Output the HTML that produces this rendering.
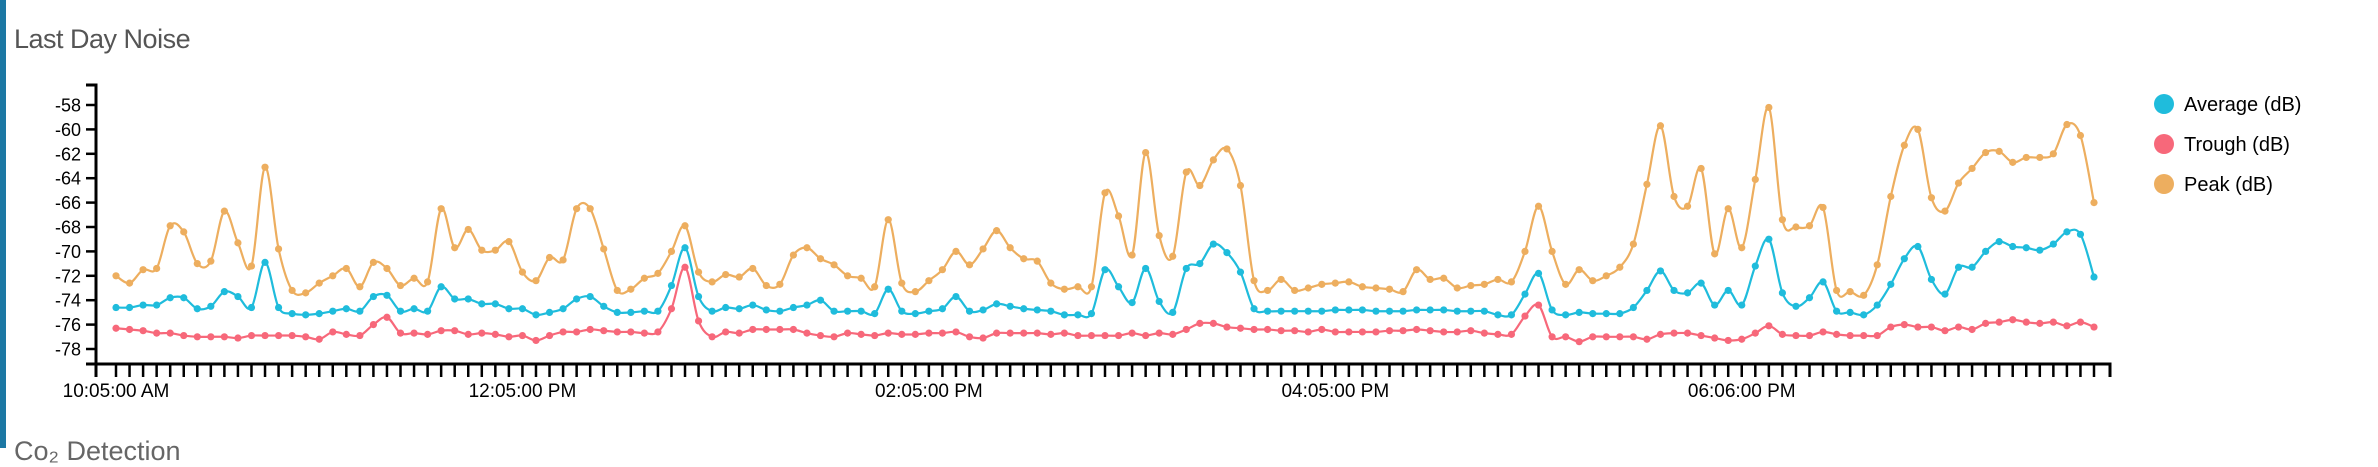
<!DOCTYPE html>
<html><head><meta charset="utf-8">
<style>
html,body{margin:0;padding:0;background:#fff;}
body{width:2378px;height:448px;overflow:hidden;position:relative;font-family:"Liberation Sans",sans-serif;}
#bar{position:absolute;left:0;top:0;width:6px;height:448px;background:#1c78a4;}
#title{position:absolute;left:14px;top:24px;font-size:27px;color:#555;font-weight:normal;letter-spacing:-0.5px;}
#foot{position:absolute;left:14px;top:436px;font-size:27px;color:#666;}
svg{position:absolute;left:0;top:0;}
</style></head>
<body>
<div id="bar"></div>
<div id="title">Last Day Noise</div>
<div id="foot">Co₂ Detection</div>
<svg id="chart" width="2378" height="448"></svg>
<script>
const xLabels = ["10:05:00 AM","12:05:00 PM","02:05:00 PM","04:05:00 PM","06:06:00 PM"];
const xLabelIdx = [0,30,60,90,120];
const yTicks = [-58,-60,-62,-64,-66,-68,-70,-72,-74,-76,-78];
const peak = [-72.0,-72.6,-71.5,-71.4,-67.9,-68.4,-71.0,-70.8,-66.7,-69.3,-71.2,-63.1,-69.8,-73.2,-73.4,-72.6,-72.0,-71.4,-72.9,-70.9,
-71.4,-72.8,-72.2,-72.5,-66.5,-69.7,-68.2,-69.9,-69.9,-69.2,-71.7,-72.4,-70.5,-70.7,-66.5,-66.5,-69.8,-73.2,-73.1,-72.2,
-71.8,-70.0,-67.9,-71.7,-72.5,-71.9,-72.1,-71.4,-72.8,-72.7,-70.3,-69.7,-70.6,-71.1,-72.0,-72.2,-72.9,-67.4,-72.6,-73.3,
-72.4,-71.5,-70.0,-71.1,-69.8,-68.3,-69.7,-70.6,-70.8,-72.6,-73.1,-72.9,-72.9,-65.2,-67.1,-70.3,-61.9,-68.7,-70.4,-63.5,
-64.6,-62.5,-61.6,-64.6,-72.4,-73.2,-72.3,-73.2,-73.0,-72.7,-72.6,-72.5,-72.9,-73.0,-73.1,-73.3,-71.5,-72.3,-72.2,-73.0,
-72.8,-72.7,-72.3,-72.5,-70.0,-66.3,-70.0,-72.7,-71.5,-72.4,-72.0,-71.3,-69.4,-64.5,-59.7,-65.5,-66.3,-63.2,-70.2,-66.5,
-69.7,-64.1,-58.2,-67.4,-68.0,-67.9,-66.4,-73.2,-73.3,-73.6,-71.1,-65.5,-61.3,-60.0,-65.6,-66.7,-64.4,-63.2,-61.9,-61.8,
-62.7,-62.3,-62.3,-62.0,-59.6,-60.5,-66.0];
const average = [-74.6,-74.6,-74.4,-74.4,-73.8,-73.8,-74.7,-74.5,-73.3,-73.7,-74.6,-70.9,-74.6,-75.1,-75.2,-75.1,-74.9,-74.7,-74.9,-73.7,
-73.6,-74.9,-74.7,-74.9,-72.9,-73.9,-73.9,-74.3,-74.3,-74.7,-74.7,-75.2,-75.0,-74.7,-73.9,-73.7,-74.5,-75.0,-75.0,-74.9,
-74.9,-72.8,-69.7,-73.7,-74.9,-74.6,-74.7,-74.4,-74.8,-74.9,-74.6,-74.4,-74.0,-74.9,-74.9,-74.9,-75.1,-73.1,-74.9,-75.1,
-74.9,-74.7,-73.7,-74.9,-74.8,-74.3,-74.5,-74.7,-74.8,-74.9,-75.2,-75.2,-75.1,-71.5,-72.9,-74.2,-71.4,-74.1,-75.0,-71.4,
-71.0,-69.4,-70.1,-71.7,-74.7,-74.9,-74.9,-74.9,-74.9,-74.9,-74.8,-74.8,-74.8,-74.9,-74.9,-74.9,-74.8,-74.8,-74.8,-74.9,
-74.9,-74.9,-75.2,-75.2,-73.5,-71.8,-74.8,-75.2,-75.0,-75.1,-75.1,-75.1,-74.6,-73.2,-71.6,-73.2,-73.4,-72.6,-74.4,-73.2,
-74.4,-71.2,-69.0,-73.4,-74.5,-73.8,-72.5,-74.9,-75.0,-75.2,-74.4,-72.7,-70.6,-69.6,-72.3,-73.5,-71.3,-71.3,-70.0,-69.2,
-69.6,-69.7,-69.9,-69.4,-68.4,-68.6,-72.1];
const trough = [-76.3,-76.4,-76.5,-76.7,-76.7,-76.9,-77.0,-77.0,-77.0,-77.1,-76.9,-76.9,-76.9,-76.9,-77.0,-77.2,-76.6,-76.8,-76.9,-76.0,
-75.4,-76.7,-76.7,-76.8,-76.5,-76.5,-76.8,-76.7,-76.8,-77.0,-76.9,-77.3,-76.9,-76.6,-76.6,-76.4,-76.5,-76.6,-76.6,-76.7,
-76.6,-74.7,-71.3,-75.7,-77.0,-76.6,-76.7,-76.4,-76.4,-76.4,-76.4,-76.7,-76.9,-77.0,-76.7,-76.8,-76.9,-76.7,-76.8,-76.8,
-76.7,-76.7,-76.6,-77.0,-77.1,-76.7,-76.7,-76.7,-76.7,-76.8,-76.7,-76.9,-76.9,-76.9,-76.9,-76.7,-76.9,-76.7,-76.8,-76.4,
-75.9,-75.9,-76.2,-76.3,-76.4,-76.4,-76.5,-76.5,-76.6,-76.4,-76.6,-76.6,-76.6,-76.6,-76.5,-76.5,-76.4,-76.5,-76.6,-76.6,
-76.5,-76.7,-76.8,-76.8,-75.3,-74.4,-77.0,-77.0,-77.4,-77.0,-77.0,-77.0,-77.0,-77.2,-76.8,-76.7,-76.7,-76.9,-77.1,-77.3,
-77.2,-76.7,-76.1,-76.8,-76.9,-76.9,-76.6,-76.8,-76.9,-76.9,-76.9,-76.2,-76.0,-76.2,-76.2,-76.5,-76.2,-76.4,-75.9,-75.8,
-75.6,-75.8,-75.9,-75.8,-76.1,-75.8,-76.2];
const seriesNames = ["Average (dB)","Trough (dB)","Peak (dB)"];
const seriesColors = ["#1fbcdc","#f7687a","#edae5f"];

const NS = "http://www.w3.org/2000/svg";
const svg = document.getElementById("chart");
const X0 = 96, X1 = 2110, Y0 = 85, Y1 = 364;
const N = peak.length;
function xs(i){ return 116 + i * (2094 - 116) / (N - 1); }
function ys(v){ return 105 + (-58 - v) * 12.2; }
function mk(tag, attrs){ const e = document.createElementNS(NS, tag); for (const k in attrs) e.setAttribute(k, attrs[k]); svg.appendChild(e); return e; }

// y axis
let ya = mk("path", {d:`M${X0-10},${Y0}H${X0}V${Y1}H${X0-10}`, fill:"none", stroke:"#000", "stroke-width":3});


yTicks.forEach(v => {
  const y = ys(v);
  let t = mk("line", {x1:X0-10, x2:X0, y1:y, y2:y, stroke:"#000", "stroke-width":2.5});
  
  
  let l = mk("text", {x:X0-15, y:y+6.5, "text-anchor":"end", "font-size":18, fill:"#000"});
  l.textContent = v;
  
  
});
// x axis
let xa = mk("path", {d:`M${X0},${Y1+13}V${Y1}H${X1}V${Y1+13}`, fill:"none", stroke:"#000", "stroke-width":3});


for (let i = 0; i < N; i++) {
  let t = mk("line", {x1:xs(i), x2:xs(i), y1:Y1, y2:Y1+13, stroke:"#000", "stroke-width":2.5});
  
  
}
xLabels.forEach((s, k) => {
  let l = mk("text", {x:xs(xLabelIdx[k]), y:397, "text-anchor":"middle", "font-size":19, fill:"#000"});
  l.textContent = s;
  
  
});

function curve(vals){
  const p = vals.map((v,i)=>[xs(i), ys(v)]);
  let d = `M${p[0][0]},${p[0][1]}`;
  for (let i = 0; i < p.length - 1; i++) {
    const a = p[Math.max(0,i-1)], b = p[i], c = p[i+1], e = p[Math.min(p.length-1,i+2)];
    const k = 1/6;
    d += `C${b[0]+(c[0]-a[0])*k},${b[1]+(c[1]-a[1])*k} ${c[0]-(e[0]-b[0])*k},${c[1]-(e[1]-b[1])*k} ${c[0]},${c[1]}`;
  }
  return d;
}
const allSeries = [average, trough, peak];
const lineNames = ["average-line","trough-line","peak-line"];
const dotNames = ["average-point","trough-point","peak-point"];
[2,0,1].forEach(s => {
  let path = mk("path", {d:curve(allSeries[s]), fill:"none", stroke:seriesColors[s], "stroke-width":2.2});
  
  
  allSeries[s].forEach((v,i) => {
    let c = mk("circle", {cx:xs(i), cy:ys(v), r:3.6, fill:seriesColors[s]});
    
    
  });
});
// legend
seriesNames.forEach((n, k) => {
  const y = 104 + k * 40;
  let c = mk("circle", {cx:2164, cy:y, r:10, fill:seriesColors[k]});
  
  
  let t = mk("text", {x:2184, y:y+7, "font-size":20, fill:"#000"});
  t.textContent = n;
  
  
});
</script>
</body></html>
